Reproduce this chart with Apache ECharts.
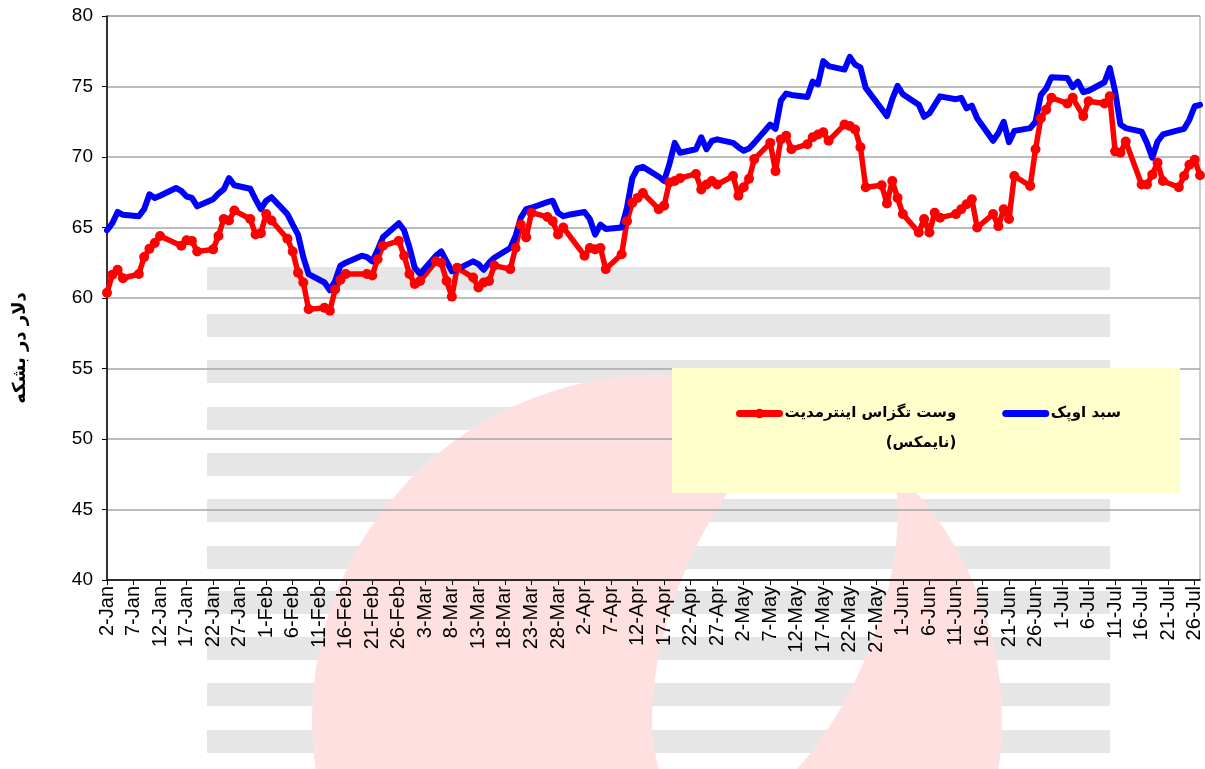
<!DOCTYPE html>
<html>
<head>
<meta charset="utf-8">
<script src="https://cdn.jsdelivr.net/npm/echarts@6/dist/echarts.min.js"></script>
<style>
  html, body { margin: 0; padding: 0; background: #fff; }
  #chart { width: 1205px; height: 769px; }
</style>
</head>
<body>
<div id="chart"></div>
<script>
// one value per weekday (Mon-Fri), Tue 2-Jan .. Fri 27-Jul; null = no quote
const opecBasket = [
  64.8, 65.3, 66.1, 65.9,
  65.8, 66.3, 67.35, 67.1, 67.25,
  67.8, 67.6, 67.2, 67.1, 66.5,
  67.0, 67.4, 67.7, 68.5, 68.0,
  67.75, 67.0, 66.3, 66.9, 67.15,
  65.95, 65.2, 64.5, 62.9, 61.7,
  61.1, 60.55, 61.2, 62.3, 62.5,
  63.0, 62.9, 62.6, 63.4, 64.3,
  65.3, 64.8, 63.6, 62.15, 61.7,
  63.0, 63.3, 62.6, 61.9, 62.05,
  62.6, 62.4, 62.0, 62.5, 62.85,
  63.55, 64.4, 65.7, 66.3, 66.4,
  66.8, 66.9, 66.05, 65.8, 65.9,
  66.1, 65.6, 64.5, 65.2, 64.9,
  65.0, 66.4, 68.5, 69.2, 69.3,
  68.6, 68.3, 69.5, 71.0, 70.3,
  70.55, 71.4, 70.55, 71.15, 71.25,
  71.0, 70.7, 70.45, 70.6, 71.0,
  72.3, 72.0, 74.0, 74.5, 74.4,
  74.25, 75.35, 75.15, 76.8, 76.45,
  76.2, 77.1, 76.55, 76.35, 74.9,
  73.4, 72.9, 74.1, 75.05, 74.45,
  73.7, 72.85, 73.1, 73.7, 74.3,
  74.1, 74.2, 73.45, 73.65, 72.75,
  71.15, 71.7, 72.5, 71.05, 71.85,
  72.05, 72.5, 74.4, 74.85, 75.65,
  75.6, 74.95, 75.35, 74.6, 74.7,
  75.3, 76.3, 74.65, 72.3, 72.05,
  71.8, 71.0, 69.95, 71.1, 71.6,
  71.9, 72.0, 72.65, 73.6, 73.7
];
const wtiNymex = [
  60.37, 61.65, 62.0, 61.4,
  61.7, 62.9, 63.5, 63.9, 64.4,
  null, 63.7, 64.1, 64.05, 63.3,
  63.45, 64.4, 65.6, 65.5, 66.2,
  65.6, 64.5, 64.6, 65.95, 65.5,
  64.2, 63.3, 61.8, 61.1, 59.2,
  59.3, 59.1, 60.6, 61.3, 61.7,
  null, 61.7, 61.6, 62.75, 63.7,
  64.05, 63.0, 61.7, 61.0, 61.2,
  62.6, 62.5, 61.2, 60.1, 62.15,
  61.45, 60.75, 61.1, 61.2, 62.3,
  62.05, 63.55, 65.2, 64.3, 66.05,
  65.75, 65.45, 64.5, 65.0, null,
  63.0, 63.55, 63.45, 63.55, 62.05,
  63.1, 65.45, 66.75, 67.1, 67.45,
  66.3, 66.55, 68.2, 68.3, 68.5,
  68.8, 67.7, 68.05, 68.3, 68.05,
  68.65, 67.25, 67.85, 68.45, 69.85,
  71.0, 69.0, 71.25, 71.5, 70.55,
  70.9, 71.4, 71.6, 71.75, 71.15,
  72.3, 72.2, 71.95, 70.7, 67.85,
  68.0, 66.7, 68.3, 67.1, 65.95,
  64.65, 65.6, 64.65, 66.05, 65.7,
  65.95, 66.3, 66.65, 67.0, 65.0,
  65.95, 65.1, 66.3, 65.6, 68.65,
  67.95, 70.55, 72.75, 73.35, 74.2,
  73.8, 74.2, null, 72.9, 73.95,
  73.8, 74.3, 70.4, 70.3, 71.1,
  68.05, 68.05, 68.75, 69.6, 68.3,
  67.85, 68.65, 69.45, 69.8, 68.7
];
const monthNames = ['Jan', 'Feb', 'Mar', 'Apr', 'May', 'Jun', 'Jul'];
const opecName = 'سبد اوپک';
const wtiName = 'وست تگزاس اینترمدیت';
const wtiName2 = '(نایمکس)';
const yTitle = 'دلار در بشکه';

// date axis: every calendar day 2-Jan .. 27-Jul, weekends left empty
const days = [];
const opecData = [];
const wtiData = [];
let k = 0;
for (let t = Date.UTC(2018, 0, 2); t <= Date.UTC(2018, 6, 27); t += 86400000) {
  const d = new Date(t);
  days.push(d.getUTCDate() + '-' + monthNames[d.getUTCMonth()]);
  const wd = d.getUTCDay();
  if (wd === 0 || wd === 6) {
    opecData.push(null);
    wtiData.push(null);
  } else {
    opecData.push(opecBasket[k]);
    wtiData.push(wtiNymex[k]);
    k++;
  }
}

// background watermark (grey stripes + pink ring)
const stripeTops = [267, 314, 360, 407, 453, 499, 546, 591, 637, 683, 730];
const watermark = stripeTops.map(y => ({
  type: 'rect',
  z: -10,
  silent: true,
  shape: { x: 207, y: y, width: 903, height: 23 },
  style: { fill: '#e6e6e6' }
}));

const ring = [];
for (let i = 0; i <= 120; i++) {
  const a = Math.PI * 2 * i / 120;
  ring.push([657 + 345 * Math.cos(a), 720 + 345 * Math.sin(a)]);
}
const rot = 22 * Math.PI / 180;
for (let i = 0; i <= 120; i++) {
  const a = -Math.PI * 2 * i / 120;
  const ex = 100 * Math.cos(a), ey = 215 * Math.sin(a);
  ring.push([775 + ex * Math.cos(rot) - ey * Math.sin(rot), 615 + ex * Math.sin(rot) + ey * Math.cos(rot)]);
}
watermark.push({
  type: 'polygon',
  z: -5,
  silent: true,
  shape: { points: ring },
  style: { fill: '#ffe0e0' }
});

// legend box
watermark.push({
  type: 'rect',
  z: 3,
  silent: true,
  shape: { x: 672, y: 368, width: 508, height: 125 },
  style: { fill: '#ffffcc' }
});

const chart = echarts.init(document.getElementById('chart'));

chart.setOption({
  animation: false,
  graphic: { elements: watermark },
  grid: {
    left: 107,
    right: 5,
    top: 16,
    bottom: 189,
    show: true,
    borderColor: '#999',
    borderWidth: 1,
    outerBoundsMode: 'none'
  },
  legend: {
    left: 736,
    top: 376,
    z: 10,
    padding: 0,
    itemGap: 46,
    itemWidth: 40,
    itemHeight: 12,
    selectedMode: false,
    lineStyle: { width: 7 },
    data: [
      { name: wtiName },
      { name: opecName, itemStyle: { opacity: 0 } }
    ],
    formatter(name) {
      if (name === wtiName) {
        return '{e| }\n{t|' + wtiName + '}\n{t|' + wtiName2 + '}';
      }
      return '{t|' + name + '}';
    },
    textStyle: {
      color: '#000',
      rich: {
        e: { fontSize: 15, lineHeight: 30 },
        t: {
          fontFamily: 'DejaVu Sans',
          fontWeight: 'bold',
          fontSize: 15,
          lineHeight: 30,
          align: 'right',
          color: '#000'
        }
      }
    }
  },
  xAxis: {
    type: 'category',
    data: days,
    boundaryGap: false,
    axisLine: { lineStyle: { color: '#000', width: 1.5 } },
    axisTick: { interval: 4, length: 5, lineStyle: { color: '#000' } },
    axisLabel: {
      interval: 4,
      rotate: 90,
      margin: 6,
      color: '#000',
      fontFamily: 'Liberation Sans',
      fontSize: 20
    },
    splitLine: { show: false }
  },
  yAxis: {
    type: 'value',
    min: 40,
    max: 80,
    interval: 5,
    name: yTitle,
    nameLocation: 'middle',
    nameRotate: 90,
    nameGap: 78,
    nameTextStyle: {
      fontFamily: 'DejaVu Sans',
      fontWeight: 'bold',
      fontSize: 18,
      color: '#000',
      padding: [0, 100, 0, 0]
    },
    axisLine: { show: true, lineStyle: { color: '#000', width: 1.5 } },
    axisTick: { show: true, length: 5, lineStyle: { color: '#000' } },
    axisLabel: {
      margin: 14,
      color: '#000',
      fontFamily: 'Liberation Sans',
      fontSize: 19
    },
    splitLine: { lineStyle: { color: '#a6a6a6', width: 1.5 } }
  },
  series: [
    {
      name: wtiName,
      type: 'line',
      data: wtiData,
      connectNulls: true,
      symbol: 'circle',
      symbolSize: 10,
      showAllSymbol: true,
      itemStyle: { color: '#ff0000' },
      lineStyle: { color: '#ff0000', width: 5.5, cap: 'round', join: 'round' }
    },
    {
      name: opecName,
      type: 'line',
      data: opecData,
      connectNulls: true,
      symbol: 'none',
      itemStyle: { color: '#0000ff' },
      lineStyle: { color: '#0000ff', width: 6, cap: 'round', join: 'round' }
    }
  ]
});
</script>
</body>
</html>
